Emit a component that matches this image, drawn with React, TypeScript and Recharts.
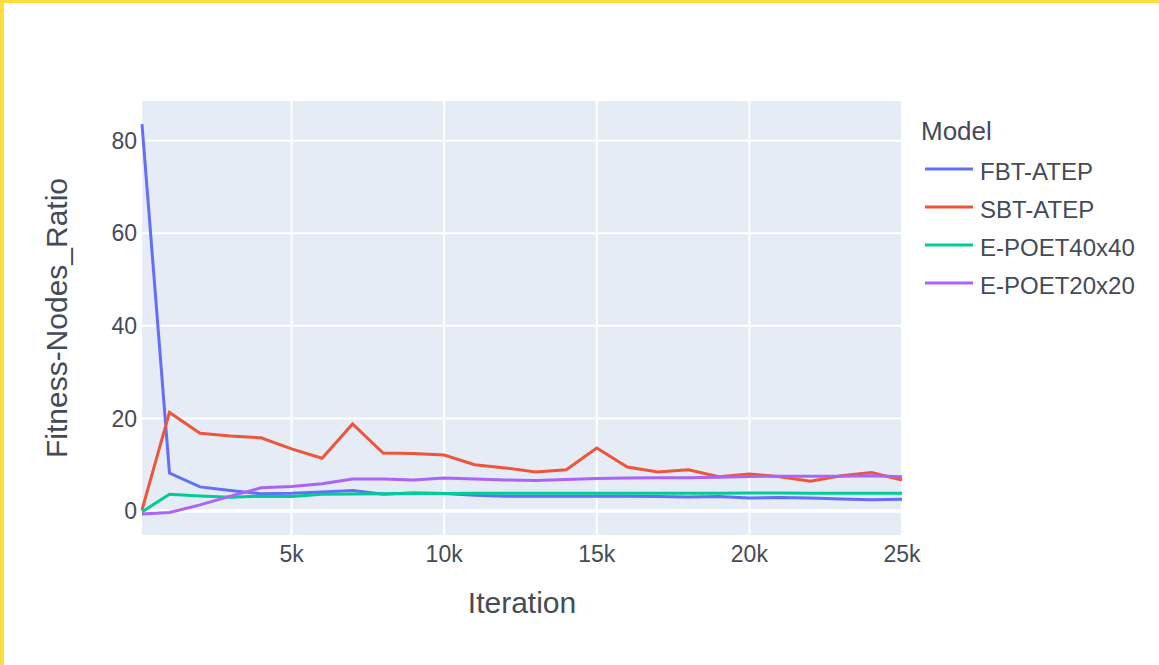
import React from 'react';
import { LineChart, Line, XAxis, YAxis, CartesianGrid, Legend, ReferenceLine } from 'recharts';

const iterations = [100, 1000, 2000, 3000, 4000, 5000, 6000, 7000, 8000, 9000, 10000, 11000, 12000, 13000, 14000, 15000, 16000, 17000, 18000, 19000, 20000, 21000, 22000, 23000, 24000, 25000];
const fbtAtep = [83.6, 8.2, 5.2, 4.4, 3.7, 3.8, 4.1, 4.4, 3.6, 3.9, 3.75, 3.4, 3.2, 3.2, 3.2, 3.2, 3.15, 3.1, 3.0, 3.1, 2.8, 2.9, 2.8, 2.6, 2.4, 2.5];
const sbtAtep = [0.2, 21.3, 16.8, 16.2, 15.8, 13.4, 11.4, 18.8, 12.5, 12.4, 12.1, 10.0, 9.3, 8.4, 8.9, 13.6, 9.5, 8.4, 8.9, 7.4, 8.0, 7.4, 6.4, 7.6, 8.3, 6.7];
const epoet40 = [-0.2, 3.6, 3.25, 2.95, 3.2, 3.1, 3.6, 3.65, 3.7, 3.85, 3.75, 3.85, 3.85, 3.85, 3.8, 3.8, 3.8, 3.8, 3.85, 3.85, 3.9, 3.9, 3.85, 3.85, 3.8, 3.8];
const epoet20 = [-0.65, -0.35, 1.3, 3.2, 5.0, 5.3, 5.9, 6.9, 6.9, 6.7, 7.1, 6.9, 6.7, 6.6, 6.8, 7.0, 7.1, 7.15, 7.2, 7.3, 7.45, 7.5, 7.5, 7.5, 7.6, 7.4];

const xTicks = [5000, 10000, 15000, 20000, 25000];
const yTicks = [0, 20, 40, 60, 80];

const seriesNames = ['FBT-ATEP', 'SBT-ATEP', 'E-POET40x40', 'E-POET20x20'];
const seriesKeys = ['fbt', 'sbt', 'e40', 'e20'];
const seriesColors = ['#636EFA', '#EF553B', '#00CC96', '#AB63FA'];

const data = iterations.map((it, i) => ({
  it,
  fbt: fbtAtep[i],
  sbt: sbtAtep[i],
  e40: epoet40[i],
  e20: epoet20[i],
}));

const FONT = '"Liberation Sans", Arial, sans-serif';
const TEXT = '#444b58';

const LegendBox = () => (
  <svg width={240} height={200} style={{ fontFamily: FONT, display: 'block' }}>
    <text x={6} y={30} fontSize={26} fill={TEXT}>Model</text>
    {seriesNames.map((n, i) => (
      <g key={n}>
        <line x1={10} x2={58} y1={59 + i * 38} y2={59 + i * 38} stroke={seriesColors[i]} strokeWidth={3} />
        <text x={65} y={70 + i * 38} fontSize={24} fill={TEXT}>{n}</text>
      </g>
    ))}
  </svg>
);

export default function App() {
  return (
    <div style={{ position: 'fixed', left: 0, top: 0, width: 1159, height: 665, background: '#fff', overflow: 'hidden' }}>
      <div style={{ position: 'absolute', left: 0, top: 0 }}>
        <LineChart
          width={1159}
          height={665}
          data={data}
          margin={{ top: 101, right: 257, bottom: 50, left: 0 }}
          style={{ fontFamily: FONT }}
        >
          <CartesianGrid stroke="#ffffff" strokeWidth={2} fill="#E5ECF6" verticalValues={xTicks} horizontalValues={yTicks} />
          <XAxis
            dataKey="it"
            type="number"
            domain={[100, 25000]}
            ticks={xTicks}
            tickFormatter={(v: number) => `${v / 1000}k`}
            axisLine={false}
            tickLine={false}
            tickSize={0}
            tickMargin={11}
            height={80}
            tick={{ fontSize: 23, fill: TEXT }}
            label={{ value: 'Iteration', position: 'insideBottom', offset: 2, style: { fontSize: 30, fill: TEXT } }}
          />
          <YAxis
            type="number"
            domain={[-5.2, 88.6]}
            allowDataOverflow
            ticks={yTicks}
            axisLine={false}
            tickLine={false}
            tickSize={0}
            tickMargin={5}
            width={142}
            tick={{ fontSize: 23, fill: TEXT }}
            label={{ value: 'Fitness-Nodes_Ratio', angle: -90, position: 'insideLeft', offset: 56, style: { fontSize: 30, fill: TEXT, textAnchor: 'middle' } }}
          />
          <ReferenceLine y={0} stroke="#ffffff" strokeWidth={3.5} />
          {seriesKeys.map((k, i) => (
            <Line
              key={k}
              type="linear"
              dataKey={k}
              name={seriesNames[i]}
              stroke={seriesColors[i]}
              strokeWidth={3}
              dot={false}
              activeDot={false}
              isAnimationActive={false}
            />
          ))}
          <Legend
            content={() => <LegendBox />}
            wrapperStyle={{ left: 915, top: 110, width: 240, height: 0, overflow: 'visible' }}
          />
        </LineChart>
      </div>
      <div style={{ position: 'absolute', left: 0, top: 0, width: 4, height: 665, background: '#FFDF3F' }} />
      <div style={{ position: 'absolute', left: 0, top: 0, width: 1159, height: 3, background: '#FFDF3F' }} />
    </div>
  );
}
